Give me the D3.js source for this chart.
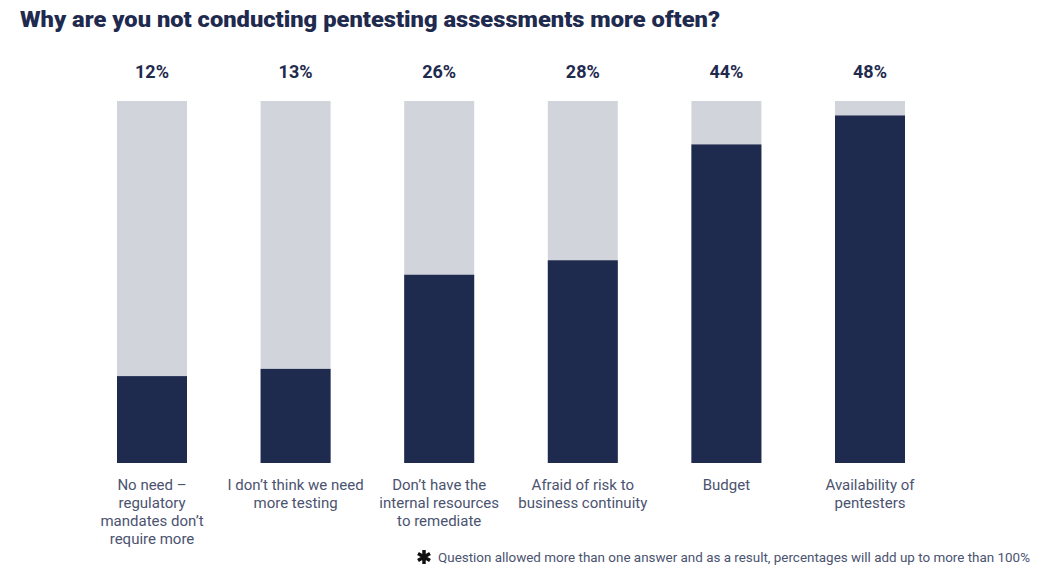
<!DOCTYPE html>
<html>
<head>
<meta charset="utf-8">
<script src="https://cdn.jsdelivr.net/npm/d3@7"></script>
<style>
  body { margin: 0; background: #fff; }
  text { font-family: Roboto, "Noto Sans", sans-serif; }
</style>
</head>
<body>
<div id="chart"></div>
<script>
// data
var categories = ["c1", "c2", "c3", "c4", "c5", "c6"];
var tickLabels = [
    ["No need \u2013", "regulatory", "mandates don\u2019t", "require more"],
    ["I don\u2019t think we need", "more testing"],
    ["Don\u2019t have the", "internal resources", "to remediate"],
    ["Afraid of risk to", "business continuity"],
    ["Budget"],
    ["Availability of", "pentesters"]
];
var values = [12, 13, 26, 28, 44, 48];
var maxValue = [50];

var width = 1048, height = 571;
var dark = "#1f2a4f", light = "#d1d4db", labelColor = "#4b5370";

var svg = d3.select("#chart")
    .append("svg")
    .attr("width", width)
    .attr("height", height);

// title
svg.append("text")
    .attr("x", 20)
    .attr("y", 27)
    .attr("fill", dark)
    .attr("font-size", 22)
    .attr("font-weight", 900)
    .attr("textLength", 700)
    .attr("lengthAdjust", "spacingAndGlyphs")
    .text("Why are you not conducting pentesting assessments more often?");

// scales
var x = d3.scaleBand()
    .domain(categories)
    .range([80.2, 941.8])
    .paddingInner(0.5125)
    .paddingOuter(0.25625);

var y = d3.scaleLinear()
    .domain([0, maxValue[0]])
    .range([463, 101]);

// background bars
svg.selectAll(".bg")
    .data(categories)
    .enter()
    .append("rect")
    .attr("class", "bg")
    .attr("x", function(d) { return x(d); })
    .attr("y", y(maxValue[0]))
    .attr("width", x.bandwidth())
    .attr("height", y(0) - y(maxValue[0]))
    .attr("fill", light);

// value bars
svg.selectAll(".bar")
    .data(values)
    .enter()
    .append("rect")
    .attr("class", "bar")
    .attr("x", function(d, i) { return x(categories[i]); })
    .attr("y", function(d) { return y(d); })
    .attr("width", x.bandwidth())
    .attr("height", function(d) { return y(0) - y(d); })
    .attr("fill", dark);

// percent labels on top
svg.selectAll(".pct")
    .data(values)
    .enter()
    .append("text")
    .attr("class", "pct")
    .attr("x", function(d, i) { return x(categories[i]) + x.bandwidth() / 2; })
    .attr("y", 78)
    .attr("text-anchor", "middle")
    .attr("font-size", 18)
    .attr("font-weight", 700)
    .attr("fill", dark)
    .text(function(d) { return d + "%"; });

// category labels
var xAxis = svg.append("g")
    .attr("transform", "translate(0,463)")
    .call(d3.axisBottom(x).tickSize(0).tickFormat(""));
xAxis.select(".domain").remove();

xAxis.selectAll(".tick").each(function(d, i) {
    var t = d3.select(this).append("text")
        .attr("text-anchor", "middle")
        .attr("fill", labelColor)
        .attr("font-size", 15)
        .attr("y", 27);
    tickLabels[i].forEach(function(line, j) {
        t.append("tspan")
            .attr("x", 0)
            .attr("dy", j === 0 ? 0 : 18)
            .text(line);
    });
});

// footnote
svg.append("path")
    .attr("transform", "translate(424,557)")
    .attr("d", d3.symbol(d3.symbolAsterisk, 135)())
    .attr("fill", "none")
    .attr("stroke", "#111")
    .attr("stroke-width", 3.5);

svg.append("text")
    .attr("x", 438)
    .attr("y", 562)
    .attr("font-size", 13)
    .attr("fill", labelColor)
    .attr("textLength", 592)
    .attr("lengthAdjust", "spacingAndGlyphs")
    .text("Question allowed more than one answer and as a result, percentages will add up to more than 100%");
</script>
</body>
</html>
